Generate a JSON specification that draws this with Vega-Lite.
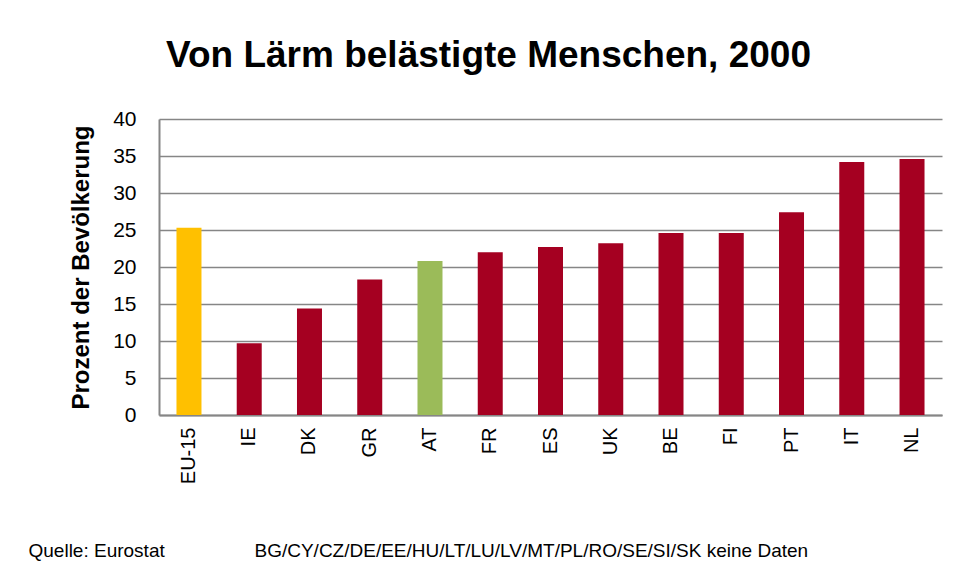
{
  "$schema": "https://vega.github.io/schema/vega-lite/v6.json",
  "width": 783,
  "height": 296,
  "autosize": {"type": "none"},
  "padding": {"left": 159, "top": 119, "right": 16, "bottom": 162},
  "background": "white",
  "title": {
    "text": "Von Lärm belästigte Menschen, 2000",
    "font": "Liberation Sans",
    "fontSize": 37,
    "fontWeight": "bold",
    "color": "black",
    "anchor": "middle",
    "dx": -62,
    "offset": 33
  },
  "data": {
    "values": [
      {"land": "EU-15", "wert": 25.3, "gruppe": "EU"},
      {"land": "IE", "wert": 9.7, "gruppe": "andere"},
      {"land": "DK", "wert": 14.4, "gruppe": "andere"},
      {"land": "GR", "wert": 18.3, "gruppe": "andere"},
      {"land": "AT", "wert": 20.8, "gruppe": "AT"},
      {"land": "FR", "wert": 22.0, "gruppe": "andere"},
      {"land": "ES", "wert": 22.7, "gruppe": "andere"},
      {"land": "UK", "wert": 23.2, "gruppe": "andere"},
      {"land": "BE", "wert": 24.6, "gruppe": "andere"},
      {"land": "FI", "wert": 24.6, "gruppe": "andere"},
      {"land": "PT", "wert": 27.4, "gruppe": "andere"},
      {"land": "IT", "wert": 34.2, "gruppe": "andere"},
      {"land": "NL", "wert": 34.6, "gruppe": "andere"}
    ]
  },
  "mark": {"type": "bar"},
  "encoding": {
    "x": {
      "field": "land",
      "type": "nominal",
      "sort": null,
      "scale": {"paddingInner": 0.585, "paddingOuter": 0.29},
      "axis": {
        "title": "Quelle: Eurostat\u00a0\u00a0\u00a0\u00a0\u00a0\u00a0\u00a0\u00a0\u00a0\u00a0\u00a0\u00a0\u00a0\u00a0\u00a0\u00a0\u00a0BG/CY/CZ/DE/EE/HU/LT/LU/LV/MT/PL/RO/SE/SI/SK keine Daten",
        "titleFont": "Liberation Sans",
        "titleFontSize": 19,
        "titleFontWeight": "normal",
        "titleColor": "black",
        "titleAnchor": "start",
        "titleAlign": "left",
        "titleBaseline": "alphabetic",
        "titleX": -131,
        "titleY": 141,
        "labelAngle": -90,
        "labelFont": "Liberation Sans",
        "labelFontSize": 20,
        "labelColor": "black",
        "labelPadding": 12,
        "ticks": false,
        "domainColor": "#868686",
        "domainWidth": 2
      }
    },
    "y": {
      "field": "wert",
      "type": "quantitative",
      "scale": {"domain": [0, 40]},
      "axis": {
        "title": "Prozent der Bevölkerung",
        "titleFont": "Liberation Sans",
        "titleFontSize": 24,
        "titleFontWeight": "bold",
        "titleColor": "black",
        "titlePadding": 19,
        "values": [0, 5, 10, 15, 20, 25, 30, 35, 40],
        "labelFont": "Liberation Sans",
        "labelFontSize": 21,
        "labelColor": "black",
        "labelPadding": 23,
        "ticks": false,
        "grid": true,
        "gridColor": "#868686",
        "gridWidth": 1.5,
        "domainColor": "#868686",
        "domainWidth": 2
      }
    },
    "color": {
      "field": "gruppe",
      "type": "nominal",
      "scale": {"domain": ["EU", "AT", "andere"], "range": ["#FFC000", "#9BBB59", "#A50021"]},
      "legend": null
    }
  },
  "config": {
    "view": {"stroke": null},
    "axis": {"gridOpacity": 1}
  }
}
